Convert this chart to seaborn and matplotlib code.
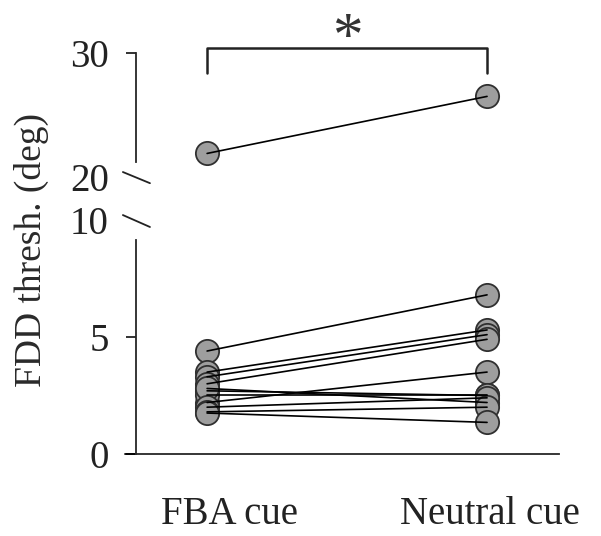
import numpy as np
import pandas as pd
import matplotlib
matplotlib.use("Agg")
import matplotlib.pyplot as plt
import seaborn as sns

# ==========================================
# Data
# ==========================================
conditions = ["FBA cue", "Neutral cue"]
fba_low = [4.4, 3.5, 3.3, 3.0, 2.2, 2.7, 2.5, 2.8, 2.0, 1.8, 1.75]
neutral_low = [6.8, 5.3, 5.1, 4.9, 3.5, 2.5, 2.5, 2.2, 2.4, 2.0, 1.35]
fba_high = [21.9]
neutral_high = [26.5]

low_ticks = [0, 5, 10]
high_ticks = [20, 30]


def to_long(fba, neutral):
    rows = []
    for i, (a, b) in enumerate(zip(fba, neutral)):
        rows.append({"subject": i, "cue": conditions[0], "thresh": a})
        rows.append({"subject": i, "cue": conditions[1], "thresh": b})
    return pd.DataFrame(rows)


df_low = to_long(fba_low, neutral_low)
df_high = to_long(fba_high, neutral_high)

# ==========================================
# Style
# ==========================================
sns.set_style("ticks")
plt.rcParams["font.family"] = ["Liberation Serif", "DejaVu Serif"]
plt.rcParams["axes.linewidth"] = 1.3
plt.rcParams["text.color"] = "#2a2a2a"
plt.rcParams["xtick.color"] = "#222222"
plt.rcParams["ytick.color"] = "#222222"

FACE = "#9e9e9e"
EDGE = "#303030"
FS = 28

fig = plt.figure(figsize=(6.01, 5.36), dpi=100)
ax_lo = fig.add_axes([0.2263, 0.1530, 0.7038, 0.4366])
ax_hi = fig.add_axes([0.2263, 0.6698, 0.7038, 0.2313])

for ax, df in [(ax_lo, df_low), (ax_hi, df_high)]:
    sns.scatterplot(data=df, x="cue", y="thresh", ax=ax, s=280,
                    color=FACE, edgecolor=EDGE, linewidth=1.3,
                    zorder=2, clip_on=False, legend=False)
    sns.lineplot(data=df, x="cue", y="thresh", units="subject",
                 estimator=None, ax=ax, color="black", linewidth=1.2,
                 zorder=3, legend=False)
    ax.set_xlim(-0.254, 1.257)
    ax.set_xlabel("")
    ax.set_ylabel("")
    ax.tick_params(axis="y", length=7.5, width=1.3, labelsize=FS, pad=12)
    ax.spines["right"].set_visible(False)
    ax.spines["top"].set_visible(False)

# lower panel
ax_lo.set_ylim(0, 10)
ax_lo.set_yticks(low_ticks)
ax_lo.set_yticklabels([str(t) for t in low_ticks])
ax_lo.spines["left"].set_bounds(0, 9.15)
ax_lo.yaxis.get_major_ticks()[2].tick1line.set_visible(False)
ax_lo.set_xticks([0.08, 1.01])
ax_lo.set_xticklabels(conditions, fontsize=FS)
ax_lo.tick_params(axis="x", length=0, pad=30)
ax_lo.spines["bottom"].set_bounds(-0.254, 1.257)
# extend x-axis line to the left like the reference
ax_lo.plot([-0.293, -0.254], [0, 0], color="black", lw=1.3, clip_on=False,
           transform=ax_lo.transData)

# upper panel
ax_hi.set_ylim(20, 30)
ax_hi.set_yticks(high_ticks)
ax_hi.set_yticklabels([str(t) for t in high_ticks])
ax_hi.spines["left"].set_bounds(21.2, 30)
ax_hi.spines["bottom"].set_visible(False)
ax_hi.set_xticks([])
ax_hi.yaxis.get_major_ticks()[0].tick1line.set_visible(False)

# axis break slashes
ax_lo.plot([-0.031, 0.033], [10.21, 9.7], color="#222222", lw=1.3,
           clip_on=False, transform=ax_lo.get_yaxis_transform())
ax_hi.plot([-0.031, 0.033], [20.4, 19.5], color="#222222", lw=1.3,
           clip_on=False, transform=ax_hi.get_yaxis_transform())

# significance bracket
ax_hi.plot([0, 0, 1, 1], [28.4, 30.4, 30.4, 28.4], color="#222222", lw=1.8,
           clip_on=False)
ax_hi.text(0.5, 31.1, "*", ha="center", va="center", fontsize=44,
           color="#333333", clip_on=False)

fig.text(0.053, 0.534, "FDD thresh. (deg)", rotation=90, ha="center",
         va="center", fontsize=27)

plt.savefig("out.png", dpi=100)
